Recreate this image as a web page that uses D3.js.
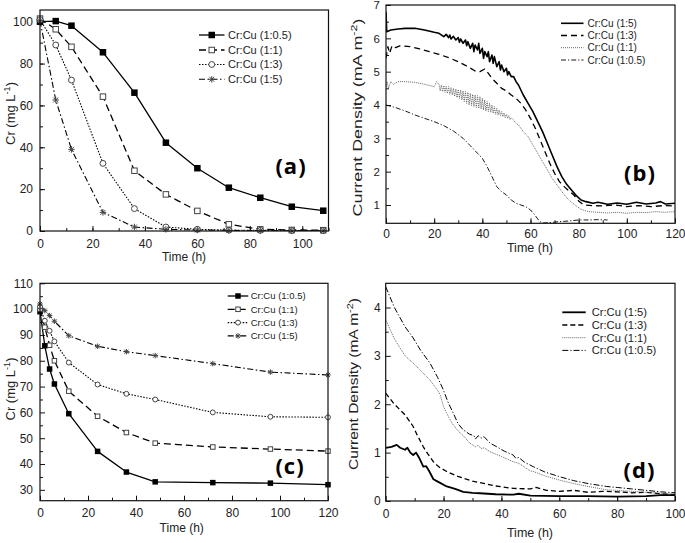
<!DOCTYPE html>
<html><head><meta charset="utf-8">
<script src="https://cdn.jsdelivr.net/npm/d3@7"></script>
<style>
html,body{margin:0;padding:0;background:#fff;}
svg{display:block;font-family:"Liberation Sans",Arial,sans-serif;}
</style></head><body>
<svg id="chart" width="685" height="543"></svg>
<script>
// ---------------- DATA ----------------
const ratioLabels = ["Cr:Cu (1:0.5)", "Cr:Cu (1:1)", "Cr:Cu (1:3)", "Cr:Cu (1:5)"];
const panelLabels = ["(a)", "(b)", "(c)", "(d)"];

// Panel (a): Cr (mg/L) vs time
const timeA = [0, 6, 12, 24, 36, 48, 60, 72, 84, 96, 108];
const crA_05 = [100, 100.3, 98.1, 85.4, 66.1, 42.2, 30.0, 20.7, 15.9, 11.6, 9.7];
const crA_11 = [101.5, 96.4, 88.0, 64.2, 28.8, 17.5, 9.6, 3.2, 0.8, 0.5, 0.4];
const crA_13 = [101, 88.9, 72.1, 32.3, 10.7, 1.9, 0.8, 0.4, 0.3, 0.2, 0.2];
const crA_15 = [100.5, 62.6, 39.0, 8.9, 1.9, 0.8, 0.5, 0.3, 0.2, 0.1, 0.1];
const ticksA_x = [0, 20, 40, 60, 80, 100];
const ticksA_y = [0, 20, 40, 60, 80, 100];

// Panel (c): Cr (mg/L) vs time
const timeC = [0, 2, 4, 6, 12, 24, 36, 48, 72, 96, 120];
const crC_05 = [99, 85.8, 76.8, 71.0, 59.5, 44.9, 36.9, 33.1, 32.8, 32.6, 32.0];
const crC_11 = [100, 93, 86, 80, 68.2, 58.5, 52.2, 48.1, 46.6, 45.8, 45.0];
const crC_13 = [101, 95.5, 91.6, 87.5, 79.3, 70.8, 67.2, 65.0, 60.0, 58.3, 58.1];
const crC_15 = [102, 99.4, 97.5, 95.3, 89.7, 85.6, 83.5, 82.0, 78.9, 75.6, 74.5];
const ticksC_x = [0, 20, 40, 60, 80, 100, 120];
const ticksC_y = [30, 40, 50, 60, 70, 80, 90, 100, 110];

// Panel (b): current density [time h, mA m-2]
const jB_15 = [[0,6.8],[0.3,6.2],[2,6.25],[5,6.28],[8,6.3],[12,6.3],[16,6.25],[20,6.18],[22,6.15],[24,6.05],[25,6.12],[26,6.02],[26.5,6.1],[27,5.98],[28,6.06],[29,5.95],[30,6.02],[30.5,5.88],[31,5.98],[32,5.85],[33,5.95],[33.5,5.78],[34,5.9],[35,5.7],[36,5.85],[36.5,5.6],[37,5.8],[38,5.65],[38.5,5.85],[39,5.55],[40,5.7],[40.5,5.4],[41,5.6],[42,5.45],[42.5,5.6],[43,5.3],[44,5.5],[44.5,5.25],[45,5.45],[46,5.15],[47,5.3],[47.5,5.05],[48,5.2],[49,5.0],[50,5.1],[50.5,4.9],[51,5.0],[52,4.85],[53,4.85],[54,4.7],[55,4.6],[57,4.3],[59,4.05],[61,3.8],[63,3.5],[65,3.2],[67,2.85],[69,2.5],[71,2.15],[73,1.85],[75,1.62],[77,1.45],[79,1.28],[81,1.15],[83,1.1],[86,1.05],[88,1.08],[92,1.02],[96,1.06],[100,1.02],[104,1.08],[108,1.03],[112,1.06],[114,1.1],[116,1.03],[120,1.05]];
const jB_13 = [[0,5.4],[0.8,5.75],[1.5,5.55],[2.5,5.78],[4,5.72],[6,5.78],[10,5.75],[14,5.68],[18,5.6],[22,5.52],[26,5.42],[30,5.3],[34,5.15],[37,5.02],[39,5.0],[41,5.08],[42,5.0],[44,4.8],[46,4.65],[48,4.5],[50,4.42],[52,4.3],[54,4.2],[56,4.05],[58,3.85],[60,3.6],[62,3.3],[64,2.95],[66,2.6],[68,2.25],[70,1.95],[72,1.7],[74,1.55],[76,1.42],[78,1.3],[80,1.12],[82,1.0],[86,0.98],[90,0.97],[95,1.0],[100,0.95],[105,0.98],[110,0.95],[115,0.98],[120,0.97]];
const jB_11 = [[0,4.55],[0.5,4.7],[1,4.5],[2,4.7],[3,4.62],[5,4.7],[8,4.7],[12,4.68],[16,4.62],[20,4.55],[21,4.7],[22,4.62],[22.5,4.42],[23,4.6],[23.5,4.4],[24,4.58],[24.5,4.38],[25,4.56],[25.5,4.35],[26,4.55],[26.5,4.32],[27,4.52],[27.5,4.3],[28,4.5],[28.5,4.26],[29,4.48],[29.5,4.22],[30,4.46],[30.5,4.2],[31,4.45],[31.5,4.15],[32,4.42],[32.5,4.1],[33,4.4],[33.5,4.05],[34,4.38],[34.5,4.0],[35,4.35],[35.5,3.98],[36,4.32],[36.5,3.95],[37,4.3],[37.5,3.92],[38,4.28],[38.5,3.9],[39,4.25],[39.5,3.88],[40,4.2],[40.5,3.85],[41,4.15],[41.5,3.82],[42,4.1],[42.5,3.8],[43,4.05],[43.5,3.78],[44,4.0],[44.5,3.75],[45,3.95],[45.5,3.72],[46,3.9],[46.5,3.7],[47,3.85],[47.5,3.68],[48,3.8],[48.5,3.65],[49,3.76],[49.5,3.62],[50,3.72],[50.5,3.6],[51,3.68],[51.5,3.56],[52,3.62],[53,3.55],[54,3.45],[55,3.4],[57,3.2],[59,3.05],[61,2.8],[63,2.55],[65,2.3],[67,2.05],[69,1.8],[71,1.6],[73,1.4],[75,1.22],[77,1.08],[79,0.97],[81,0.87],[84,0.8],[88,0.78],[92,0.76],[96,0.78],[100,0.75],[104,0.78],[108,0.77],[112,0.8],[116,0.78],[120,0.8]];
const jB_05 = [[0,4.0],[4,3.92],[8,3.82],[12,3.7],[16,3.6],[20,3.5],[24,3.38],[28,3.22],[32,3.0],[35,2.78],[38,2.55],[40,2.4],[42,2.15],[44,1.85],[46,1.55],[48,1.4],[50,1.3],[52,1.15],[54,1.05],[56,1.0],[58,0.95],[60,0.85],[62,0.68],[63,0.58],[64,0.5],[65,0.46],[68,0.47],[72,0.5],[76,0.52],[80,0.55],[84,0.55],[88,0.56],[92,0.55]];
const ticksB_x = [0, 20, 40, 60, 80, 100, 120];
const ticksB_y = [1, 2, 3, 4, 5, 6, 7];

// Panel (d): current density [time h, mA m-2]
const jD_15 = [[0,1.1],[2,1.12],[3.8,1.16],[5,1.1],[6.7,1.06],[7.5,1.1],[8.5,1.0],[9.5,0.95],[10.5,1.0],[11.5,0.9],[13,0.71],[14,0.72],[15,0.62],[16.5,0.45],[18,0.4],[21.1,0.3],[24,0.25],[26.8,0.19],[30,0.17],[32.6,0.16],[38,0.14],[44.1,0.13],[46,0.15],[50,0.11],[60,0.1],[70,0.1],[80,0.09],[90,0.1],[95,0.12],[100,0.12]];
const jD_13 = [[0,2.23],[3,2.0],[6.7,1.78],[9.5,1.54],[11,1.35],[13,1.12],[14.5,0.98],[16.5,0.81],[18.5,0.7],[21.1,0.61],[24,0.53],[26.8,0.47],[30,0.41],[32.6,0.38],[38,0.31],[44.1,0.26],[50,0.25],[52,0.28],[55.6,0.22],[60,0.2],[65,0.22],[70,0.18],[75,0.2],[80,0.19],[85,0.17],[90,0.18],[95,0.15],[100,0.13]];
const jD_11 = [[0,3.75],[3,3.35],[6.7,3.0],[9.5,2.85],[12,2.7],[15.3,2.5],[18,2.28],[18.8,2.2],[20,1.95],[21.1,1.81],[23,1.6],[25,1.45],[26.8,1.35],[29,1.2],[31,1.12],[32,1.15],[33,1.08],[34,1.1],[36,1.02],[40,0.92],[44.1,0.81],[46,0.78],[48,0.7],[50,0.62],[51,0.61],[55,0.52],[60.2,0.43],[65,0.36],[70,0.3],[76.4,0.23],[80,0.22],[85,0.2],[90,0.18],[95,0.16],[100,0.14]];
const jD_05 = [[0,4.43],[3,4.0],[6.7,3.6],[9.5,3.37],[12,3.12],[15.3,2.85],[18,2.55],[19.9,2.3],[21.5,2.05],[23.4,1.81],[25,1.6],[26.8,1.47],[29,1.38],[30.5,1.35],[31,1.28],[32,1.35],[33,1.3],[34,1.33],[36,1.2],[38.4,1.12],[41,1.03],[44.1,0.95],[45,0.88],[46,0.9],[48,0.8],[51,0.71],[55,0.6],[60.2,0.5],[65,0.42],[70,0.36],[76.4,0.3],[80,0.28],[85,0.25],[90,0.22],[95,0.19],[100,0.17]];
const ticksD_x = [0, 20, 40, 60, 80, 100];
const ticksD_y = [0, 1, 2, 3, 4];

// ---------------- DRAWING ----------------
const svg = d3.select("#chart");
const TXT = "#222";
let clipId = 0;

function zip(xs, ys) { return xs.map((t, i) => [t, ys[i]]); }

function drawMarker(g, type, cx, cy, s) {
  const h = s / 2;
  if (type === "sqFill") {
    g.append("rect").attr("x", cx - h).attr("y", cy - h).attr("width", s).attr("height", s).attr("fill", "#000");
  } else if (type === "sqOpen") {
    g.append("rect").attr("x", cx - h + 0.5).attr("y", cy - h + 0.5).attr("width", s - 1).attr("height", s - 1)
      .attr("fill", "#fff").attr("stroke", "#444").attr("stroke-width", 1);
  } else if (type === "circle") {
    g.append("circle").attr("cx", cx).attr("cy", cy).attr("r", h - 0.3)
      .attr("fill", "#fff").attr("stroke", "#444").attr("stroke-width", 1);
  } else if (type === "star") {
    const d = h * 0.75;
    g.append("path").attr("d",
      `M${cx - h},${cy}L${cx + h},${cy}M${cx},${cy - h}L${cx},${cy + h}M${cx - d},${cy - d}L${cx + d},${cy + d}M${cx - d},${cy + d}L${cx + d},${cy - d}`)
      .attr("stroke", "#444").attr("stroke-width", 1).attr("fill", "none");
  }
}

function yTitle(g, cx, cy, main, sup, size, len) {
  const t = g.append("text").attr("transform", `translate(${cx},${cy}) rotate(-90)`)
    .attr("text-anchor", "middle").attr("dy", "0.35em").attr("font-size", size).attr("fill", TXT);
  t.append("tspan").text(main);
  t.append("tspan").attr("dy", -size * 0.38).attr("font-size", size * 0.7).text(sup);
  t.append("tspan").attr("dy", size * 0.38).text(")");
  if (len) t.attr("textLength", len).attr("lengthAdjust", "spacingAndGlyphs");
}

function panel(cfg) {
  const g = svg.append("g");
  const x = d3.scaleLinear().domain(cfg.xDom).range([cfg.l, cfg.r]);
  const y = d3.scaleLinear().domain(cfg.yDom).range([cfg.b, cfg.t]);

  const id = "clip" + (clipId++);
  svg.append("clipPath").attr("id", id).append("rect")
    .attr("x", cfg.l).attr("y", cfg.t).attr("width", cfg.r - cfg.l).attr("height", cfg.b - cfg.t);

  const styleAxis = (s, fs) => {
    s.select(".domain").remove();
    s.attr("font-size", fs).attr("font-family", '"Liberation Sans",Arial,sans-serif').attr("color", "#111");
    s.selectAll("text").attr("fill", TXT);
  };
  g.append("g").attr("transform", `translate(0,${cfg.b})`)
    .call(d3.axisBottom(x).tickValues(cfg.xMinor).tickSize(-3).tickFormat(""))
    .call(s => styleAxis(s, 12));
  g.append("g").attr("transform", `translate(0,${cfg.b})`)
    .call(d3.axisBottom(x).tickValues(cfg.xTicks).tickSizeInner(-5).tickSizeOuter(0).tickPadding(cfg.xPad).tickFormat(d3.format("d")))
    .call(s => styleAxis(s, 12));
  g.append("g").attr("transform", `translate(${cfg.l},0)`)
    .call(d3.axisLeft(y).tickValues(cfg.yMinor).tickSize(-3).tickFormat(""))
    .call(s => styleAxis(s, 12));
  g.append("g").attr("transform", `translate(${cfg.l},0)`)
    .call(d3.axisLeft(y).tickValues(cfg.yTicks).tickSizeInner(-5).tickSizeOuter(0).tickPadding(cfg.yPad).tickFormat(d3.format("d")))
    .call(s => styleAxis(s, cfg.yfs || 12));

  const line = d3.line().x(d => x(d[0])).y(d => y(d[1]));
  const lg = g.append("g").attr("clip-path", `url(#${id})`);
  cfg.series.forEach(s => {
    lg.append("path").datum(s.data).attr("d", line).attr("fill", "none")
      .attr("stroke", s.color || "#000").attr("stroke-width", s.w)
      .attr("stroke-dasharray", s.dash || null).attr("stroke-linejoin", "round");
  });
  cfg.series.forEach(s => {
    if (!s.marker) return;
    const mg = g.append("g");
    s.data.forEach(d => drawMarker(mg, s.marker, x(d[0]), y(d[1]), cfg.ms));
  });

  g.append("rect").attr("x", cfg.l).attr("y", cfg.t).attr("width", cfg.r - cfg.l).attr("height", cfg.b - cfg.t)
    .attr("fill", "none").attr("stroke", "#111").attr("stroke-width", 1.2);

  const L = cfg.legend;
  L.order.forEach((k, i) => {
    const s = cfg.series[k];
    const yy = L.rows[i];
    g.append("line").attr("x1", L.x1).attr("x2", L.x2).attr("y1", yy).attr("y2", yy)
      .attr("stroke", s.color || "#000").attr("stroke-width", s.w).attr("stroke-dasharray", s.dash || null);
    if (s.marker) drawMarker(g, s.marker, (L.x1 + L.x2) / 2, yy, cfg.ms);
    g.append("text").attr("x", L.tx).attr("y", yy).attr("dy", "0.35em")
      .attr("font-size", L.fs).attr("fill", TXT).text(s.label);
  });

  g.append("text").attr("x", cfg.xt[0]).attr("y", cfg.xt[1]).attr("text-anchor", "middle")
    .attr("font-size", cfg.xt[2]).attr("fill", TXT).text("Time (h)");
  yTitle(g, cfg.yt[0], cfg.yt[1], cfg.yt[2], cfg.yt[3], cfg.yt[4], cfg.yt[5]);

  g.append("text").attr("x", cfg.pl[0]).attr("y", cfg.pl[1]).attr("text-anchor", "middle")
    .attr("font-family", '"Open Sans",sans-serif').attr("font-weight", "bold")
    .attr("font-size", 22).attr("letter-spacing", 1).attr("fill", "#000").text(cfg.pl[2]);
}

const range = (a, b, s) => d3.range(a, b + 1e-9, s);

// (a)
panel({
  l: 40, r: 328.5, t: 10, b: 231, xDom: [0, 110], yDom: [0, 105.6],
  xTicks: ticksA_x, xMinor: range(10, 110, 10), yTicks: ticksA_y, yMinor: range(10, 100, 10),
  xPad: 8, yPad: 7, ms: 6.5,
  series: [
    { label: ratioLabels[0], data: zip(timeA, crA_05), w: 1.3, marker: "sqFill" },
    { label: ratioLabels[1], data: zip(timeA, crA_11), w: 1.3, dash: "7,4", marker: "sqOpen" },
    { label: ratioLabels[2], data: zip(timeA, crA_13), w: 1.1, dash: "1.5,1.5", marker: "circle" },
    { label: ratioLabels[3], data: zip(timeA, crA_15), w: 1.1, dash: "6,2.5,1.5,2.5", marker: "star" }
  ],
  legend: { order: [0, 1, 2, 3], rows: [35, 50, 64.5, 79.3], x1: 199, x2: 224.5, tx: 228, fs: 11 },
  xt: [184, 261, 12], yt: [10, 113.5, "Cr (mg L", "-1", 13, null], pl: [291, 174, panelLabels[0]]
});

// (b)
panel({
  l: 386, r: 675, t: 5, b: 223.3, xDom: [0, 120], yDom: [0.45, 7],
  xTicks: ticksB_x, xMinor: range(10, 110, 10), yTicks: ticksB_y, yMinor: range(1.5, 6.5, 1),
  xPad: 6, yPad: 6, ms: 0, yfs: 11.5,
  series: [
    { label: "Cr:Cu (1:5)", data: jB_15, w: 1.6 },
    { label: "Cr:Cu (1:3)", data: jB_13, w: 1.3, dash: "6,4" },
    { label: "Cr:Cu (1:1)", data: jB_11, w: 0.9, dash: "1,1", color: "#555" },
    { label: "Cr:Cu (1:0.5)", data: jB_05, w: 0.9, dash: "5,2,1.2,2" }
  ],
  legend: { order: [0, 1, 2, 3], rows: [23.3, 35.5, 47.7, 60], x1: 561, x2: 583.5, tx: 587.5, fs: 10 },
  xt: [530, 251.5, 12.5], yt: [357, 117.5, "Current Density (mA m", "-2", 13, 198], pl: [640, 181, panelLabels[1]]
});

// (c)
panel({
  l: 40, r: 328, t: 283.3, b: 500.7, xDom: [0, 120], yDom: [25.8, 110],
  xTicks: ticksC_x, xMinor: range(10, 110, 10), yTicks: ticksC_y, yMinor: range(35, 105, 10),
  xPad: 8, yPad: 7, ms: 5.5,
  series: [
    { label: ratioLabels[0], data: zip(timeC, crC_05), w: 1.3, marker: "sqFill" },
    { label: ratioLabels[1], data: zip(timeC, crC_11), w: 1.3, dash: "7,4", marker: "sqOpen" },
    { label: ratioLabels[2], data: zip(timeC, crC_13), w: 1.1, dash: "1.5,1.5", marker: "circle" },
    { label: ratioLabels[3], data: zip(timeC, crC_15), w: 1.1, dash: "6,2.5,1.5,2.5", marker: "star" }
  ],
  legend: { order: [0, 1, 2, 3], rows: [296, 309.3, 322.6, 335.9], x1: 227.7, x2: 248.3, tx: 250.7, fs: 9.5 },
  xt: [181.7, 532, 12], yt: [10, 389, "Cr (mg L", "-1", 13, null], pl: [290, 474, panelLabels[2]]
});

// (d)
panel({
  l: 385.7, r: 675, t: 283.3, b: 501, xDom: [0, 100], yDom: [0, 4.5],
  xTicks: ticksD_x, xMinor: range(10, 90, 10), yTicks: ticksD_y, yMinor: [0.5, 1.5, 2.5, 3.5],
  xPad: 8, yPad: 5, ms: 0,
  series: [
    { label: "Cr:Cu (1:5)", data: jD_15, w: 1.8 },
    { label: "Cr:Cu (1:3)", data: jD_13, w: 1.3, dash: "5,3" },
    { label: "Cr:Cu (1:1)", data: jD_11, w: 0.9, dash: "1,1", color: "#555" },
    { label: "Cr:Cu (1:0.5)", data: jD_05, w: 1.0, dash: "6,2,1.2,2" }
  ],
  legend: { order: [0, 1, 2, 3], rows: [312.3, 325, 337.7, 350.4], x1: 562.3, x2: 585.7, tx: 591.7, fs: 11.2 },
  xt: [530, 537, 12.5], yt: [353, 384, "Current Density (mA m", "-2", 13, 172], pl: [639.5, 478, panelLabels[3]]
});
</script>
</body></html>
